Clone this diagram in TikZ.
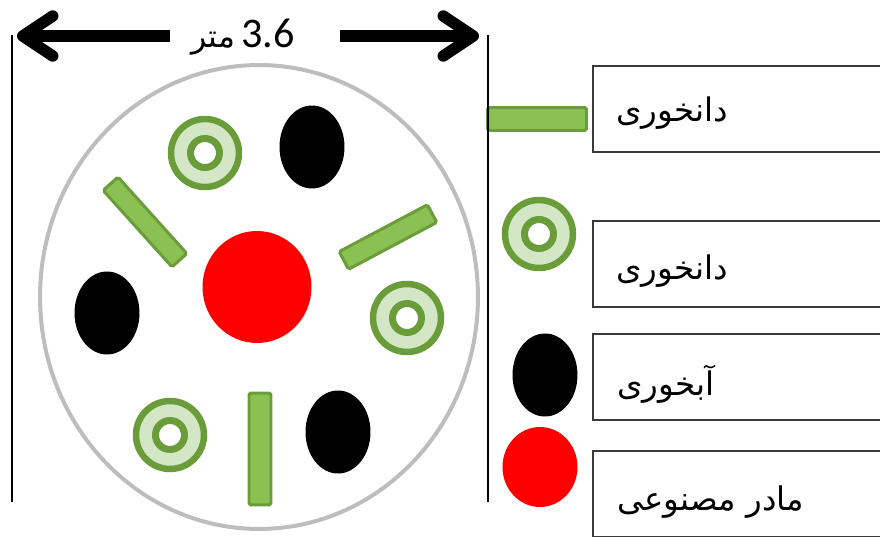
\documentclass[tikz,border=0pt]{standalone}
\usepackage{fontspec}
\usepackage{tikz}
\usepackage{xcolor}
\usetikzlibrary{positioning,shapes.geometric,arrows.meta}
\TeXXeTstate=1
\newfontfamily\arabicfont[Script=Arabic]{DejaVu Sans}
\newfontfamily\numfont{Carlito}
\definecolor{dkgreen}{HTML}{6A9D3A}
\definecolor{ltgreen}{HTML}{D3E7C6}
\definecolor{stickgreen}{HTML}{8BC152}
\definecolor{rimgray}{HTML}{BDBDBD}
\definecolor{boxgray}{HTML}{3A3A3A}

\begin{document}
\begin{tikzpicture}[x=0.02cm, y=-0.02cm,
  stick/.style = {draw=dkgreen, fill=stickgreen, line width=1.7pt, rounded corners=1pt, minimum width=2cm, minimum height=0.4cm, inner sep=0pt},
  ring/.style = {circle, draw=dkgreen, fill=ltgreen, line width=0.13cm, minimum size=1.36cm, inner sep=0pt,
    path picture={\draw[dkgreen, line width=0.14cm, fill=white] (path picture bounding box.center) circle (0.29cm);}},
  drinker/.style = {ellipse, fill=black, minimum width=1.3cm, minimum height=1.66cm, inner sep=0pt},
  mother/.style = {ellipse, fill=red, minimum width=2.18cm, minimum height=2.24cm, inner sep=0pt},
  keybox/.style = {draw=boxgray, line width=1.1pt, minimum width=6cm, minimum height=1.72cm, anchor=north west, inner sep=0pt},
  keytext/.style = {font=\arabicfont\fontsize{18.5}{22}\selectfont, inner sep=0pt},
  dimline/.style = {line width=0.23cm, -{Straight Barb[length=0.6cm,width=0.8cm,round]}},
  edge/.style = {line width=1.3pt}]
\useasboundingbox (0,0) rectangle (880,537);
\clip (0,0) rectangle (880,537);

\node[ellipse, draw=rimgray, line width=0.08cm, minimum width=8.76cm, minimum height=9.28cm, inner sep=0pt] (dish) at (259,297) {};

\node[mother] (m1) at (257,287) {};
\node[drinker] (d1) at (312,147) {};
\node[drinker] (d2) at (107,313) {};
\node[drinker] (d3) at (338,432) {};
\node[ring] (r1) at (205,153) {};
\node[ring] (r2) at (407,318) {};
\node[ring] (r3) at (170,435) {};
\node[stick, rotate=-48, minimum width=2.06cm] (s1) at (145,222) {};
\node[stick, rotate=28] (s2) at (388,237) {};
\node[stick, rotate=90, minimum width=2.24cm, minimum height=0.44cm] (s3) at (260,449) {};

\node[stick, minimum width=1.98cm, minimum height=0.46cm] (s4) at (537,119) {};
\node[ring] (r4) at (539,234) {};
\node[drinker] (d4) at (545,375) {};
\node[mother, minimum width=1.5cm, minimum height=1.6cm] (m2) at (540,467) {};

\node[keybox] (b1) at (592,65) {};
\node[keybox] (b2) at (592,220) {};
\node[keybox] (b3) at (592,333) {};
\node[keybox] (b4) at (592,450) {};
\node[keytext, right=0.48cm of b1.west, yshift=-0.08cm] (t1) {\beginR دانخوری\endR};
\node[keytext, right=0.48cm of b2.west, yshift=-0.14cm] (t2) {\beginR دانخوری\endR};
\node[keytext, right=0.5cm of b3.west, yshift=-0.14cm] (t3) {\beginR آبخوری\endR};
\node[keytext, right=0.5cm of b4.west, yshift=-0.16cm] (t4) {\beginR مادر مصنوعی\endR};

\coordinate (dimL) at (17,36);
\coordinate (dimR) at (479,36);
\coordinate (gapL) at (170,36);
\coordinate (gapR) at (340,36);
\node[inner sep=0pt] (len) at (243,37) {\beginR\beginL{\numfont\fontsize{24}{28}\selectfont 3.6}\endL\ {\arabicfont\fontsize{18}{22}\selectfont متر}\endR};
\draw[dimline] (gapL) -- (dimL);
\draw[dimline] (gapR) -- (dimR);

\coordinate (v1) at (12,35);
\coordinate (v2) at (12,502);
\coordinate (v3) at (488,35);
\coordinate (v4) at (488,502);
\draw[edge] (v1) -- (v2);
\draw[edge] (v3) -- (v4);
\end{tikzpicture}
\end{document}
